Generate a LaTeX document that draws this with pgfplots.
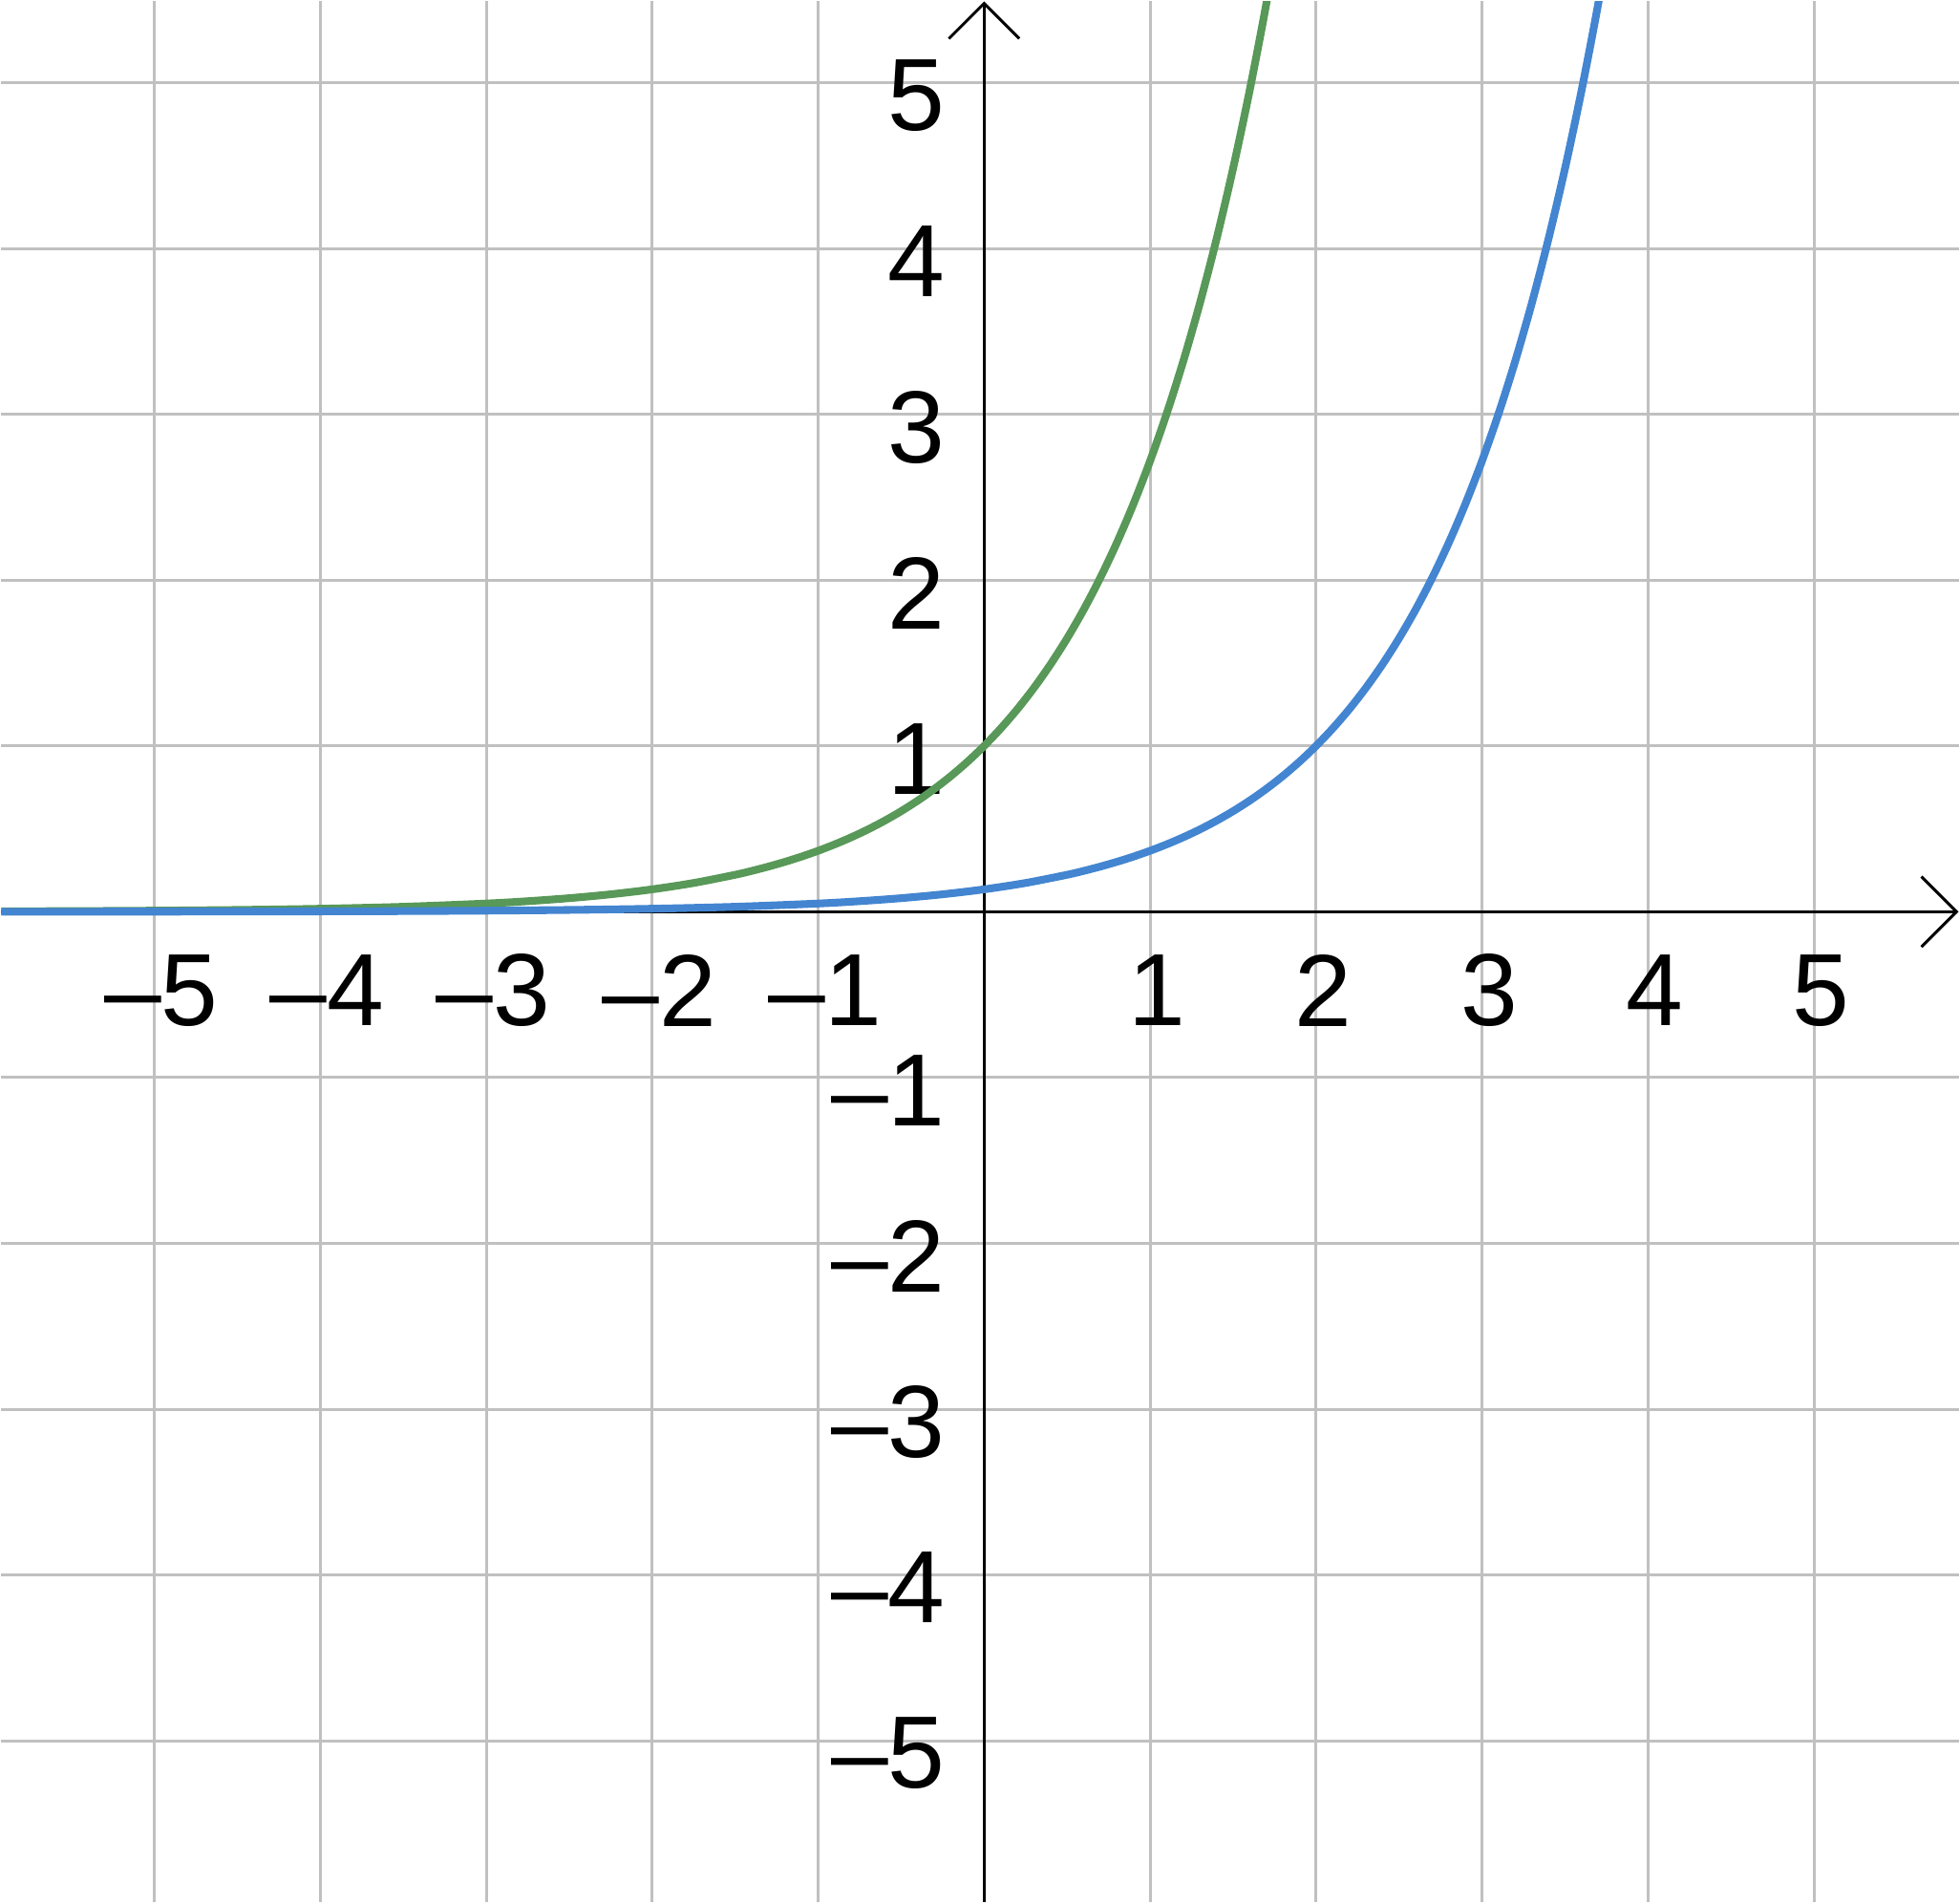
\documentclass[border=0pt]{standalone}
\usepackage{pgfplots}
\pgfplotsset{compat=1.18}
\usetikzlibrary{arrows.meta}
\usepackage{fontspec}
\setmainfont{Liberation Sans}

\definecolor{curvegreen}{RGB}{88,152,88}
\definecolor{curveblue}{RGB}{67,133,208}
\definecolor{gridgray}{RGB}{192,192,192}

\begin{document}
\begin{tikzpicture}
\begin{axis}[
    scale only axis,
    width=20.52cm, height=19.92cm,
    xmin=-5.921, xmax=5.872,
    ymin=-5.971, ymax=5.491,
    axis lines=middle,
    axis line style={line width=0.85pt, black,
        -{Straight Barb[length=10.5pt,width=21pt,line width=0.85pt]}},
    xtick={-5,-4,-3,-2,-1,1,2,3,4,5},
    ytick={-5,-4,-3,-2,-1,1,2,3,4,5},
    xticklabels={–5,–4,–3,–2,–1,1,2,3,4,5},
    yticklabels={–5,–4,–3,–2,–1,1,2,3,4,5},
    major tick length=0pt,
    grid=major,
    major grid style={line width=0.85pt, gridgray},
    tick label style={font=\fontsize{30.6}{36}\selectfont, inner sep=0pt},
    xticklabel style={anchor=center, yshift=-23.5pt, xshift=2.1pt},
    yticklabel style={anchor=east, xshift=-11.4pt, yshift=-3.8pt},
]
% y = e^x
\addplot[curvegreen, line width=2.3pt, smooth] coordinates {
    (-6,0.00248) (-5.5,0.00409) (-5,0.00674) (-4.5,0.01111) (-4,0.01832)
    (-3.5,0.03020) (-3,0.04979) (-2.75,0.06393) (-2.5,0.08208) (-2.25,0.10540)
    (-2,0.13534) (-1.75,0.17377) (-1.5,0.22313) (-1.4,0.24660) (-1.3,0.27253)
    (-1.2,0.30119) (-1.1,0.33287)
    (-1.0,0.36788) (-0.9,0.40657) (-0.8,0.44933) (-0.7,0.49659) (-0.6,0.54881)
    (-0.5,0.60653) (-0.4,0.67032) (-0.3,0.74082) (-0.2,0.81873) (-0.1,0.90484)
    (0.0,1.00000) (0.1,1.10517) (0.2,1.22140) (0.3,1.34986) (0.4,1.49182)
    (0.5,1.64872) (0.6,1.82212) (0.7,2.01375) (0.8,2.22554) (0.9,2.45960)
    (1.0,2.71828) (1.1,3.00417) (1.2,3.32012) (1.3,3.66930) (1.4,4.05520)
    (1.5,4.48169) (1.6,4.95303) (1.7,5.47395) (1.8,6.04965)
};
% y = e^(x-2)
\addplot[curveblue, line width=2.3pt, smooth] coordinates {
    (-6,0.00034) (-5.5,0.00055) (-5,0.00091) (-4.5,0.00150) (-4,0.00248)
    (-3.5,0.00409) (-3,0.00674) (-2.5,0.01111) (-2,0.01832)
    (-1.5,0.03020) (-1,0.04979) (-0.75,0.06393) (-0.5,0.08208) (-0.25,0.10540)
    (0,0.13534) (0.25,0.17377) (0.5,0.22313) (0.6,0.24660) (0.7,0.27253)
    (0.8,0.30119) (0.9,0.33287)
    (1.0,0.36788) (1.1,0.40657) (1.2,0.44933) (1.3,0.49659) (1.4,0.54881)
    (1.5,0.60653) (1.6,0.67032) (1.7,0.74082) (1.8,0.81873) (1.9,0.90484)
    (2.0,1.00000) (2.1,1.10517) (2.2,1.22140) (2.3,1.34986) (2.4,1.49182)
    (2.5,1.64872) (2.6,1.82212) (2.7,2.01375) (2.8,2.22554) (2.9,2.45960)
    (3.0,2.71828) (3.1,3.00417) (3.2,3.32012) (3.3,3.66930) (3.4,4.05520)
    (3.5,4.48169) (3.6,4.95303) (3.7,5.47395) (3.8,6.04965)
};
\end{axis}
\end{tikzpicture}
\end{document}
